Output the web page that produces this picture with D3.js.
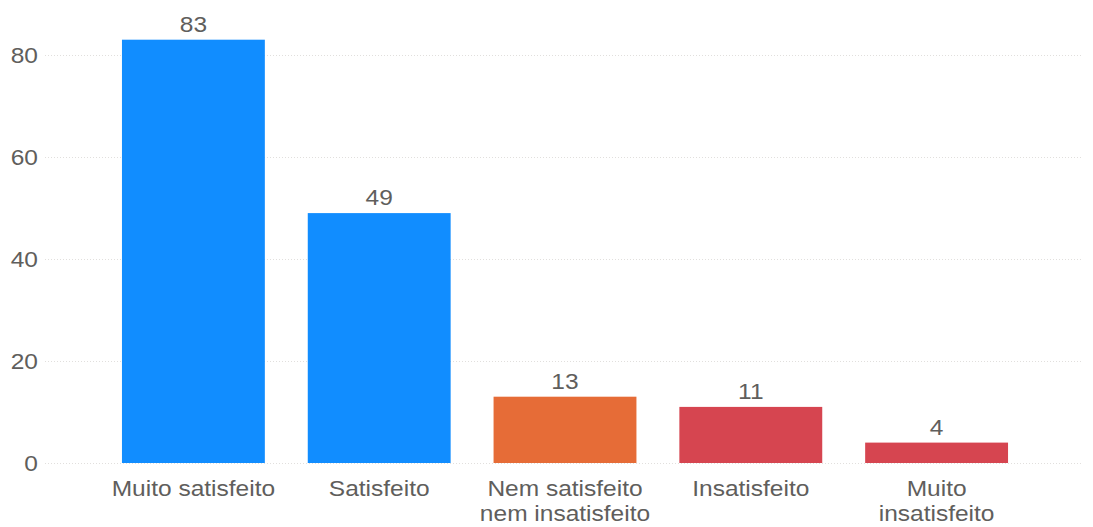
<!DOCTYPE html>
<html>
<head>
<meta charset="utf-8">
<script src="https://cdn.jsdelivr.net/npm/d3@7"></script>
<style>
  html, body { margin: 0; padding: 0; background: #fff; }
  svg text { font-family: "Liberation Sans", Arial, sans-serif; fill: #605E5C; }
</style>
</head>
<body>
<svg id="chart" width="1093" height="527"></svg>
<script>
// Satisfaction survey counts
const categories = ["Muito satisfeito", "Satisfeito", "Nem satisfeito nem insatisfeito", "Insatisfeito", "Muito insatisfeito"];
const categoryLines = [["Muito satisfeito"], ["Satisfeito"], ["Nem satisfeito", "nem insatisfeito"], ["Insatisfeito"], ["Muito", "insatisfeito"]];
const values = [83, 49, 13, 11, 4];
const barColors = ["#118DFF", "#118DFF", "#E66C37", "#D64550", "#D64550"];
const yTicks = [0, 20, 40, 60, 80];

const svg = d3.select("#chart");
const plotLeft = 45, plotRight = 1083;
const y0 = 463, yTop = 55;
const fontSize = 22.5;
const stretch = 1.09; // slightly wide lettering

const x = d3.scaleBand()
  .domain(categories)
  .range([100.5, 1029.5])
  .paddingInner(0.231)
  .paddingOuter(0.1155);

const y = d3.scaleLinear()
  .domain([0, 80])
  .range([y0, yTop]);

// places a horizontally widened text label
function label(parent, cx, cy, anchor) {
  return parent.append("g")
    .attr("transform", `translate(${cx},${cy}) scale(${stretch},1)`)
    .append("text")
    .attr("text-anchor", anchor)
    .attr("font-size", fontSize);
}

// Gridlines
const grid = svg.append("g")
  .attr("transform", `translate(${plotLeft},0)`)
  .call(d3.axisLeft(y).tickValues(yTicks).tickSize(-(plotRight - plotLeft)).tickFormat(""));
grid.select(".domain").remove();
grid.selectAll(".tick line")
  .attr("stroke", "#E1DFDD")
  .attr("stroke-width", 1)
  .attr("stroke-dasharray", "1,2");

// Y axis labels
const yAxis = svg.append("g");
yTicks.forEach(t => {
  label(yAxis, 38, y(t), "end")
    .attr("dy", "0.35em")
    .text(t);
});

// Bars
svg.append("g").selectAll("rect")
  .data(values)
  .join("rect")
  .attr("x", (d, i) => x(categories[i]))
  .attr("y", d => y(d))
  .attr("width", x.bandwidth())
  .attr("height", d => y(0) - y(d))
  .attr("fill", (d, i) => barColors[i]);

// Value labels
const valueLabels = svg.append("g");
values.forEach((v, i) => {
  label(valueLabels, x(categories[i]) + x.bandwidth() / 2, y(v) - 8, "middle").text(v);
});

// Category labels
const xAxis = svg.append("g");
categories.forEach((c, i) => {
  const cx = x(c) + x.bandwidth() / 2;
  const t = label(xAxis, cx, 496, "middle");
  categoryLines[i].forEach((line, j) => {
    t.append("tspan")
      .attr("x", 0)
      .attr("dy", j === 0 ? 0 : 25)
      .text(line);
  });
});
</script>
</body>
</html>
